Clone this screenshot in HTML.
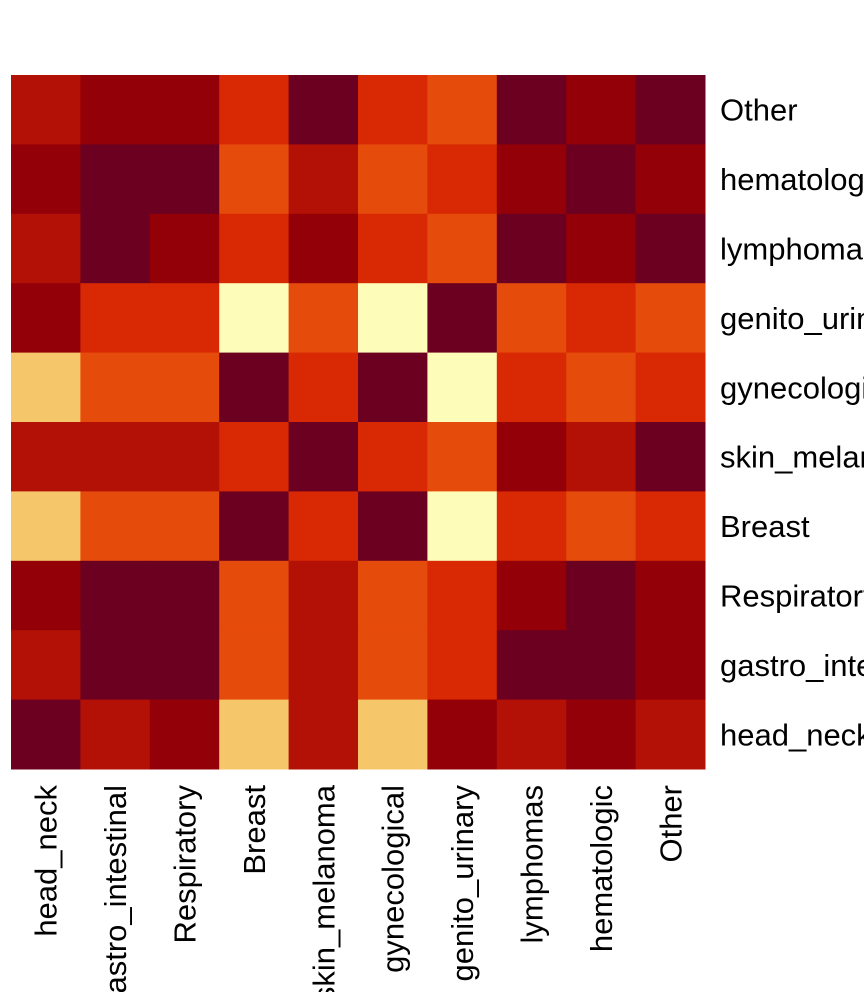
<!DOCTYPE html>
<html><head><meta charset="utf-8"><style>
body{margin:0;background:#fff;width:864px;height:992px;overflow:hidden}
svg text{font-family:"Liberation Sans",Arial,sans-serif;font-size:31px;fill:#000}
</style></head><body>
<svg id="chart" width="864" height="992" xmlns="http://www.w3.org/2000/svg"></svg>
<script>
const colLabels=["head_neck","gastro_intestinal","Respiratory","Breast","skin_melanoma","gynecological","genito_urinary","lymphomas","hematologic","Other"];
const rowLabels=["Other","hematologic","lymphomas","genito_urinary","gynecological","skin_melanoma","Breast","Respiratory","gastro_intestinal","head_neck"];
const values=[
[2,1,1,3,0,3,4,0,1,0],
[1,0,0,4,2,4,3,1,0,1],
[2,0,1,3,1,3,4,0,1,0],
[1,3,3,6,4,6,0,4,3,4],
[5,4,4,0,3,0,6,3,4,3],
[2,2,2,3,0,3,4,1,2,0],
[5,4,4,0,3,0,6,3,4,3],
[1,0,0,4,2,4,3,1,0,1],
[2,0,0,4,2,4,3,0,0,1],
[0,2,1,5,2,5,1,2,1,2]];
const palette=["#6b0020","#940008","#b31106","#d82804","#e54b0a","#f5c76a","#fdfdb9"];
const svg=document.getElementById('chart');
const NS="http://www.w3.org/2000/svg";
const x0=11,y0=75,W=694,H=694;
const cw=W/colLabels.length,ch=H/rowLabels.length;
const xs=i=>x0+i*cw, ys=j=>y0+j*ch;
values.forEach((row,j)=>row.forEach((v,i)=>{
  const r=document.createElementNS(NS,'rect');
  r.setAttribute('x',xs(i));r.setAttribute('y',ys(j));
  r.setAttribute('width',cw+0.5);r.setAttribute('height',ch+0.5);
  r.setAttribute('fill',palette[v]);
  
  
  svg.appendChild(r);
}));
rowLabels.forEach((l,j)=>{
  const t=document.createElementNS(NS,'text');
  t.setAttribute('x',720);t.setAttribute('y',ys(j)+ch/2+11);
  t.textContent=l;
  
  
  svg.appendChild(t);
});
colLabels.forEach((l,i)=>{
  const t=document.createElementNS(NS,'text');
  const cx=xs(i)+cw/2+11,cy=785;
  t.setAttribute('x',cx);t.setAttribute('y',cy);
  t.setAttribute('text-anchor','end');
  t.setAttribute('transform','rotate(-90 '+cx+' '+cy+')');
  t.textContent=l;
  
  
  svg.appendChild(t);
});
</script>
</body></html>
